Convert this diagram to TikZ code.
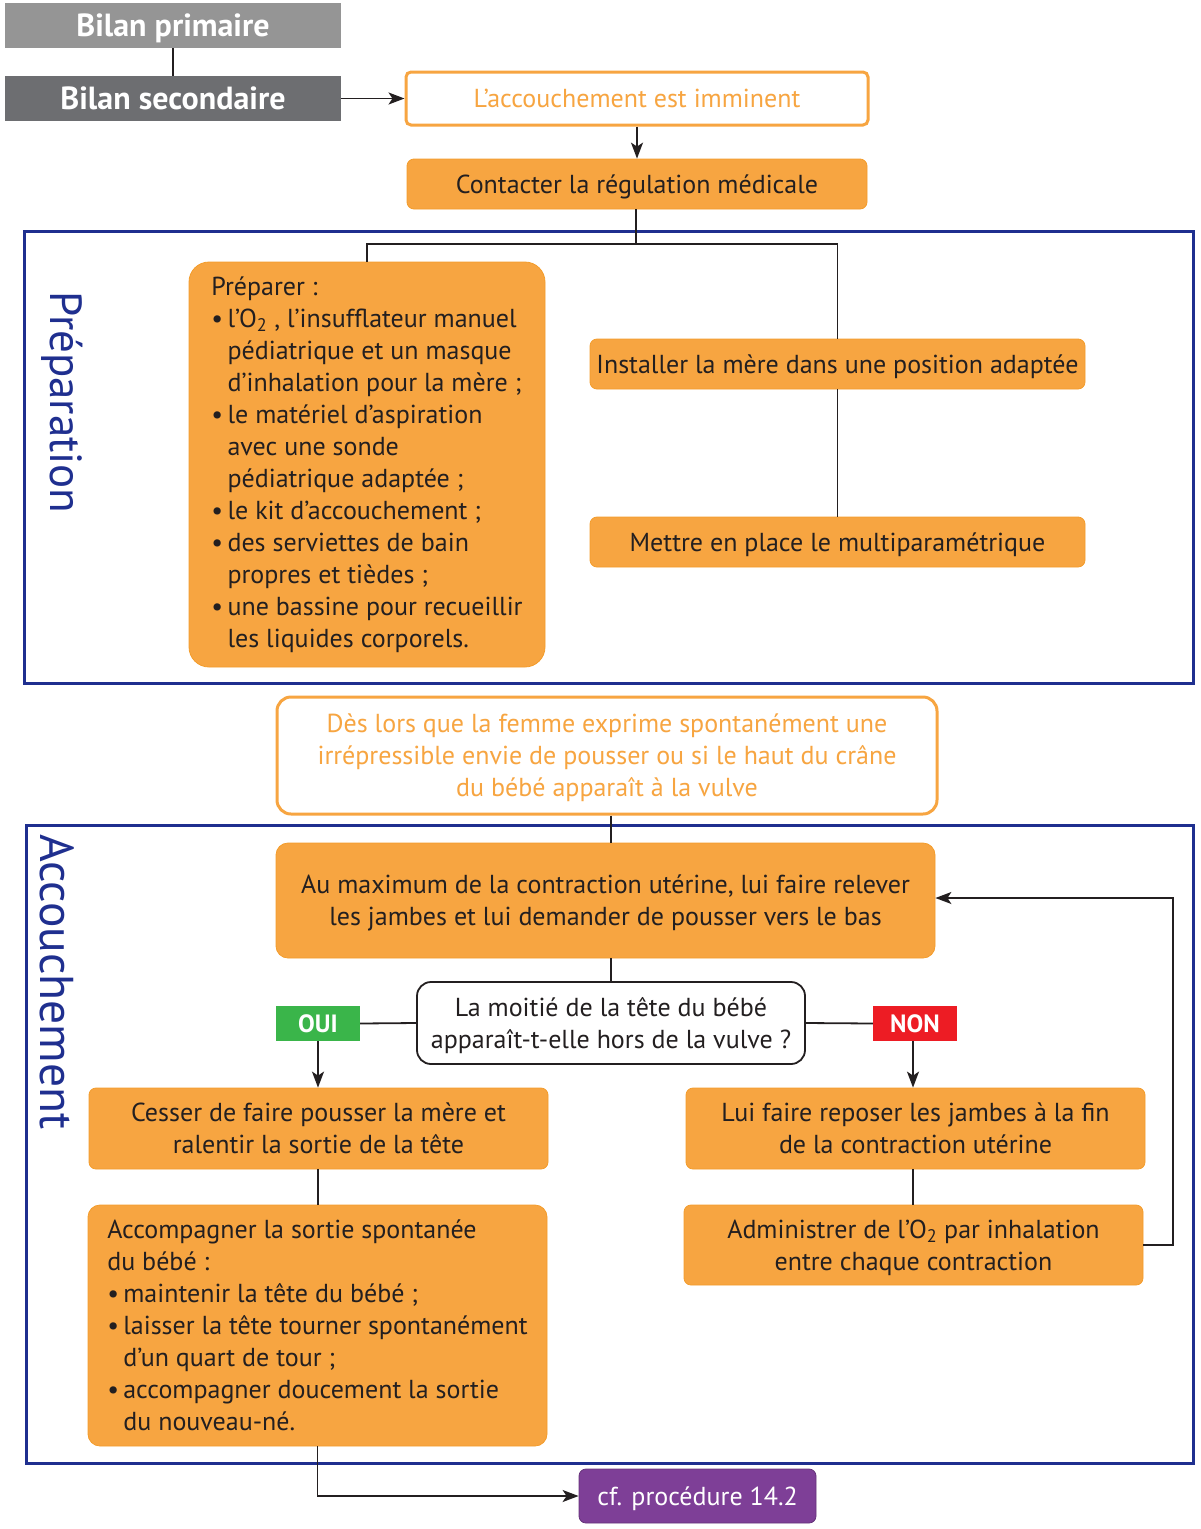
\documentclass[tikz,border=0pt]{standalone}
\usepackage{fontspec}
\setmainfont{PT Sans}
\usetikzlibrary{arrows.meta}
\definecolor{orf}{HTML}{F7A541}
\definecolor{ord}{HTML}{F39C2B}
\definecolor{frameblue}{HTML}{1F2F8F}
\definecolor{gprim}{HTML}{959595}
\definecolor{gsec}{HTML}{6D6E71}
\definecolor{ouig}{HTML}{3AB54A}
\definecolor{nonr}{HTML}{ED1C24}
\definecolor{purp}{HTML}{7E3F97}
\definecolor{ink}{HTML}{231F20}
\newcommand\bodyfs{\fontsize{26}{32}\selectfont}
\newcommand\ind{\hphantom{•\,}}
\begin{document}
\begin{tikzpicture}[x=1pt,y=-1pt,
  obox/.style={fill=orf, draw=ord, line width=0.8pt, rounded corners=7pt, text=ink, font=\bodyfs, align=center, inner sep=0pt},
  cen/.style={text depth=0pt},
  wbox/.style={fill=white, draw=orf, line width=3pt, rounded corners=5pt, text=orf, font=\bodyfs, align=center, inner sep=0pt, text depth=0pt},
  gbox/.style={draw=none, text=white, font=\fontsize{32}{36}\selectfont\bfseries, inner sep=0pt, minimum width=336pt, minimum height=45pt, text depth=0pt},
  tag/.style={draw=none, text=white, font=\fontsize{25}{28}\selectfont\bfseries, inner sep=0pt, minimum width=84pt, minimum height=35pt, text depth=0pt},
  conn/.style={draw=ink, line width=1.8pt},
  arr/.style={conn, -{Stealth[length=16pt,width=12pt,inset=4pt]}},
  frame/.style={draw=frameblue, line width=3pt},
  sectlabel/.style={text=frameblue, rotate=-90, inner sep=0pt}
]
\useasboundingbox (0,0) rectangle (1200,1529);

% top
\node[gbox, fill=gprim] (prim) at (173,25.5) {Bilan primaire};
\node[gbox, fill=gsec] (sec) at (173,98.5) {Bilan secondaire};
\node[wbox, minimum width=462pt, minimum height=53pt] (imm) at (637,98.5) {L’accouchement est imminent};
\node[obox, cen, minimum width=460pt, minimum height=50pt] (contact) at (637,184) {Contacter la régulation médicale};

% frames
\draw[frame] (24,231) rectangle (1193,683);
\draw[frame] (26,825) rectangle (1193,1463);
\node[sectlabel, font=\fontsize{45}{50}\selectfont] (lprep) at (62,402.5) {Préparation};
\node[sectlabel, font=\fontsize{47.5}{52}\selectfont] (lacc) at (57,982) {Accouchement};

% preparation
\node[obox, rounded corners=20pt, align=left, minimum width=356pt, minimum height=405pt] (prep) at (367,464.5) {Préparer :\\
•\,l’O\textsubscript{2} , l’insufflateur manuel\\
\ind pédiatrique et un masque\\
\ind d’inhalation pour la mère ;\\
•\,le matériel d’aspiration\\
\ind avec une sonde\\
\ind pédiatrique adaptée ;\\
•\,le kit d’accouchement ;\\
•\,des serviettes de bain\\
\ind propres et tièdes ;\\
•\,une bassine pour recueillir\\
\ind les liquides corporels.};
\node[obox, cen, minimum width=495pt, minimum height=50pt] (inst) at (837.5,364) {Installer la mère dans une position adaptée};
\node[obox, cen, minimum width=495pt, minimum height=50pt] (mettre) at (837.5,542) {Mettre en place le multiparamétrique};

% accouchement
\node[wbox, rounded corners=14pt, minimum width=660pt, minimum height=117pt] (des) at (607,755.5) {Dès lors que la femme exprime spontanément une\\irrépressible envie de pousser ou si le haut du crâne\\du bébé apparaît à la vulve};
\node[obox, cen, rounded corners=12pt, minimum width=659pt, minimum height=115pt] (aumax) at (605.5,900.5) {Au maximum de la contraction utérine, lui faire relever\\les jambes et lui demander de pousser vers le bas};
\node[obox, cen, fill=white, draw=ink, line width=1.8pt, rounded corners=14pt, minimum width=388pt, minimum height=82pt] (q) at (611,1023) {La moitié de la tête du bébé\\apparaît-t-elle hors de la vulve ?};
\node[tag, fill=ouig] (oui) at (318,1023.5) {OUI};
\node[tag, fill=nonr] (non) at (915,1023.5) {NON};
\node[obox, cen, minimum width=459pt, minimum height=81pt] (cesser) at (318.5,1128.5) {Cesser de faire pousser la mère et\\ralentir la sortie de la tête};
\node[obox, rounded corners=12pt, align=left, minimum width=459pt, minimum height=241pt] (accomp) at (317.5,1325.5) {Accompagner la sortie spontanée\\
du bébé :\\
•\,maintenir la tête du bébé ;\\
•\,laisser la tête tourner spontanément\\
\ind d’un quart de tour ;\\
•\,accompagner doucement la sortie\\
\ind du nouveau-né.};
\node[obox, cen, minimum width=459pt, minimum height=81pt] (lui) at (915.5,1128.5) {Lui faire reposer les jambes à la fin\\de la contraction utérine};
\node[obox, cen, minimum width=459pt, minimum height=80pt] (admin) at (913.5,1245) {Administrer de l’O\textsubscript{2} par inhalation\\entre chaque contraction};
\node[obox, cen, fill=purp, draw=purp!80!black, text=white, minimum width=237pt, minimum height=54pt] (cf) at (697.5,1496) {cf. procédure 14.2};

% connectors
\draw[conn] (prim.south) -- (sec.north);
\draw[arr] (sec.east) -- (imm.west);
\draw[arr] (imm.south) -- (contact.north);
\coordinate (j1) at (636,244);
\draw[conn] (contact.south -| j1) -- (j1);
\draw[conn] (prep.north) -- (prep.north |- j1) -- (inst.north |- j1) -- (inst.north);
\draw[conn] (inst.south) -- (mettre.north);
\draw[conn] (q.north |- des.south) -- (q.north |- aumax.north);
\draw[conn] (q.north |- aumax.south) -- (q.north);
\draw[conn] (q.west) -- (oui.east);
\draw[conn] (q.east) -- (non.west);
\draw[arr] (oui.south) -- (oui.south |- cesser.north);
\draw[arr] (non.south -| 913,0) -- (913,0 |- lui.north);
\draw[conn] (cesser.south -| 318,0) -- (318,0 |- accomp.north);
\draw[conn] (lui.south -| 913,0) -- (913,0 |- admin.north);
\coordinate (fb) at (1173,898);
\draw[arr] (admin.east) -| (fb) -- (aumax.east |- fb);
\draw[arr] (accomp.south) |- (cf.west);
\end{tikzpicture}
\end{document}
